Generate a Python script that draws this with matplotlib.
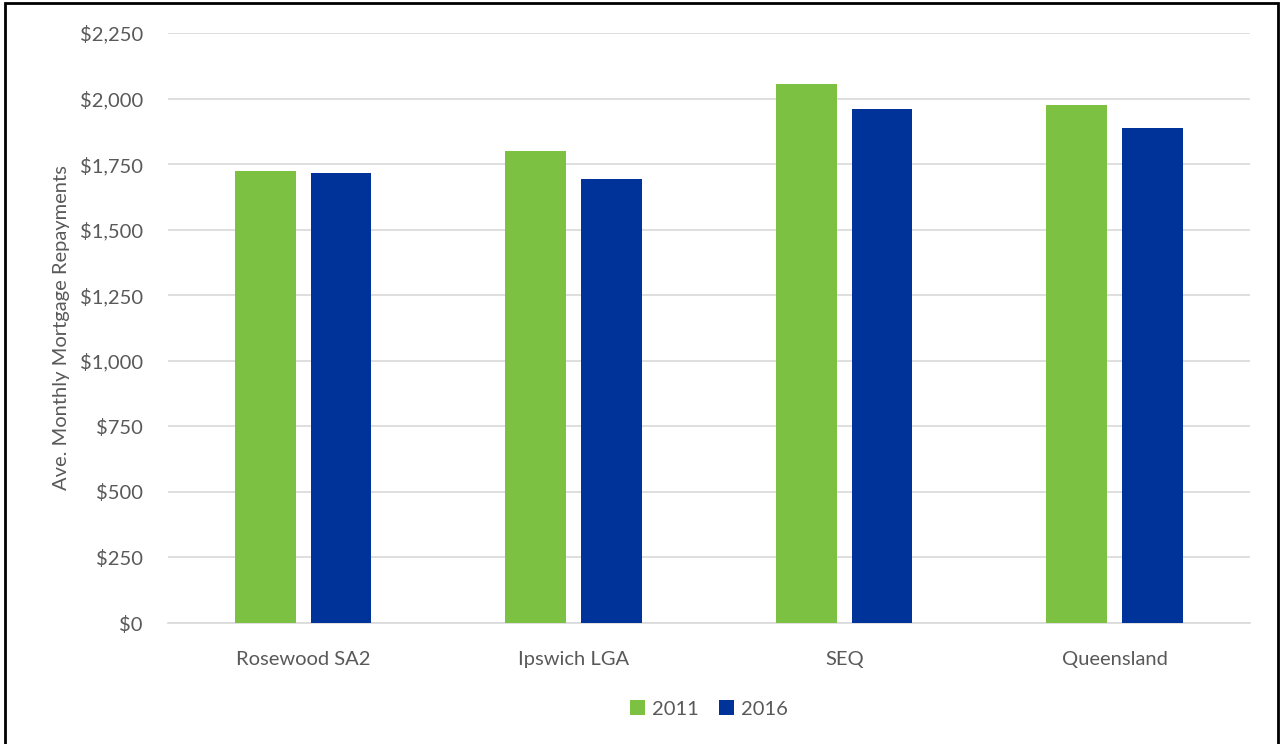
import numpy as np
import matplotlib.pyplot as plt
from matplotlib.patches import Rectangle
from matplotlib.ticker import FuncFormatter

# Ave. monthly mortgage repayments, census 2011 vs 2016
regions = ["Rosewood SA2", "Ipswich LGA", "SEQ", "Queensland"]
repay_2011 = [1725, 1800, 2055, 1975]
repay_2016 = [1715, 1695, 1960, 1887]

green = "#7DC142"
blue = "#003399"
grey_txt = "#595959"

plt.rcParams['font.family'] = ['Lato', 'DejaVu Sans']

fig = plt.figure(figsize=(12.82, 7.44), dpi=100)
ax = fig.add_axes([0.131, 0.1626, 0.844, 0.793])

x = np.arange(len(regions))
w = 0.225
off = 0.14
ax.bar(x - off, repay_2011, w, color=green, label="2011", zorder=3)
ax.bar(x + off, repay_2016, w, color=blue, label="2016", zorder=3)

ax.set_xlim(-0.5, 3.5)
ax.set_ylim(0, 2250)
ax.set_yticks(np.arange(0, 2251, 250))
ax.yaxis.set_major_formatter(FuncFormatter(lambda v, p: "${:,.0f}".format(v)))
ax.set_xticks(x)
ax.set_xticklabels(regions)

ax.grid(axis='y', color="#d9d9d9", linewidth=1.2, zorder=0)
for s in ['top', 'right', 'left']:
    ax.spines[s].set_visible(False)
ax.spines['bottom'].set_color("#d9d9d9")
ax.spines['bottom'].set_linewidth(1.2)
ax.tick_params(axis='both', length=0, labelsize=14.5, colors=grey_txt)
ax.tick_params(axis='y', pad=18)
ax.tick_params(axis='x', pad=20)

ax.set_ylabel("Ave. Monthly Mortgage Repayments", fontsize=14.5, color=grey_txt, labelpad=7)

ax.legend(loc='upper center', bbox_to_anchor=(0.5, -0.1), ncol=2, frameon=False,
          fontsize=14.5, labelcolor=grey_txt, handlelength=0.75, handleheight=0.75,
          columnspacing=1.0, handletextpad=0.35)

# outer frame
fig.patches.append(Rectangle((0.004, -0.01), 0.993, 1.006, transform=fig.transFigure,
                             fill=False, edgecolor="black", linewidth=2))

fig.savefig("out.png", dpi=100)
